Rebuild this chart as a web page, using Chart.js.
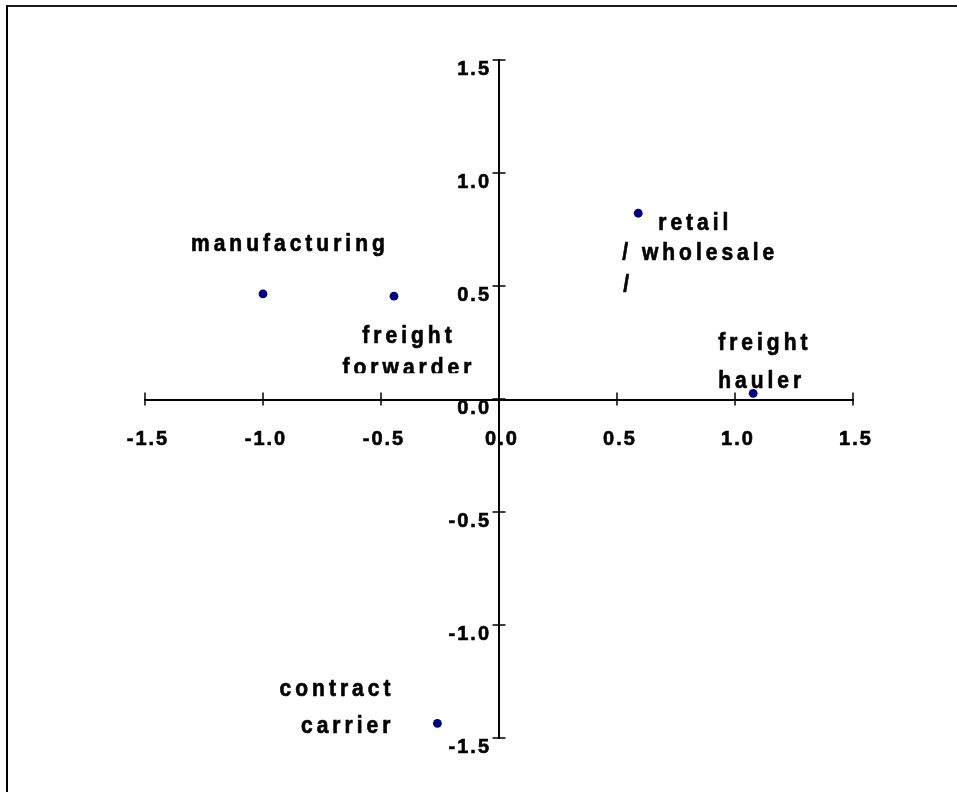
<!DOCTYPE html>
<html><head><meta charset="utf-8">
<script src="https://cdn.jsdelivr.net/npm/chart.js@4"></script>
<style>
html,body{margin:0;padding:0;background:#fff;}
#wrap{position:relative;width:957px;height:792px;overflow:hidden;background:#fff;}
#frame{position:absolute;left:6px;top:5px;right:-10px;bottom:-10px;border-top:2px solid #1a1a1a;border-left:2px solid #000;pointer-events:none;}
canvas{display:block;}
</style></head><body>
<div id="wrap"><canvas id="c" width="957" height="792"></canvas><div id="frame"></div></div>
<script>
// ---- data ----
const categories = ["manufacturing", "freight forwarder", "retail / wholesale", "freight hauler", "contract carrier"];
const labelLines = [["manufacturing"], ["freight", "forwarder"], ["retail", "/ wholesale", "/"], ["freight", "hauler"], ["contract", "carrier"]];
const xValues = [-1.00, -0.445, 0.59, 1.077, -0.261];
const yValues = [0.465, 0.455, 0.822, 0.025, -1.435];
const xTickValues = [-1.5, -1.0, -0.5, 0.0, 0.5, 1.0, 1.5];
const yTickValues = [-1.5, -1.0, -0.5, 0.0, 0.5, 1.0, 1.5];

// ---- styles for point labels (offsets from the point, in px) ----
const labelStyles = [
  {align: 'left',   dx: -72, dy: [-43]},
  {align: 'center', dx: 15,  dy: [47, 79], clipBelow: 77},
  {align: 'left',   dx: 20,  dy: [17, 47, 79], dxs: [20, -16, -15]},
  {align: 'left',   dx: -35, dy: [-43, -5]},
  {align: 'right',  dx: -43, dy: [-27, 10]}
];

const FONT = '"Liberation Sans", Arial, Helvetica, sans-serif';

const points = xValues.map((x, i) => ({x: x, y: yValues[i]}));

const spacingPlugin = {
  id: 'spacing',
  beforeLayout(chart) { chart.ctx.letterSpacing = '2px'; },
  beforeDraw(chart) { chart.ctx.letterSpacing = '2px'; }
};

const crossTicksPlugin = {
  id: 'crossTicks',
  afterDraw(chart) {
    const ctx = chart.ctx, xs = chart.scales.x, ys = chart.scales.y;
    const x0 = xs.getPixelForValue(0), y0 = ys.getPixelForValue(0);
    const half = 6.5;
    ctx.save();
    ctx.strokeStyle = '#000';
    ctx.lineWidth = 1.5;
    ctx.beginPath();
    xTickValues.forEach(v => {
      const px = Math.round(xs.getPixelForValue(v));
      ctx.moveTo(px, y0 - half); ctx.lineTo(px, y0 + half);
    });
    yTickValues.forEach(v => {
      const py = Math.round(ys.getPixelForValue(v));
      ctx.moveTo(x0 - half, py); ctx.lineTo(x0 + half, py);
    });
    ctx.stroke();
    ctx.restore();
  }
};

const pointLabelPlugin = {
  id: 'pointLabels',
  afterDatasetsDraw(chart) {
    const ctx = chart.ctx;
    const meta = chart.getDatasetMeta(0);
    ctx.save();
    ctx.font = 'bold 21px ' + FONT;
    ctx.letterSpacing = '4px';
    ctx.fillStyle = '#000';
    ctx.strokeStyle = '#000';
    ctx.lineWidth = 0.6;
    ctx.textBaseline = 'alphabetic';
    meta.data.forEach((el, i) => {
      const st = labelStyles[i];
      const lines = labelLines[i];
      ctx.save();
      if (st.clipBelow !== undefined) {
        ctx.beginPath();
        ctx.rect(0, 0, chart.width, el.y + st.clipBelow);
        ctx.clip();
      }
      ctx.textAlign = st.align;
      lines.forEach((t, j) => {
        const dx = st.dxs ? st.dxs[j] : st.dx;
        ctx.save();
        ctx.translate(el.x + dx, el.y + st.dy[j]);
        ctx.scale(1, 1.15);
        ctx.fillText(t, 0, 0);
        ctx.strokeText(t, 0, 0);
        ctx.restore();
      });
      ctx.restore();
    });
    ctx.restore();
  }
};

const tickFont = {family: FONT, size: 20, weight: 'bold'};

new Chart(document.getElementById('c'), {
  type: 'scatter',
  data: {
    datasets: [{
      label: 'groups',
      data: points,
      backgroundColor: '#000080',
      borderColor: '#000080',
      borderWidth: 0,
      pointRadius: 4.4,
      pointHoverRadius: 4.4
    }]
  },
  options: {
    responsive: false,
    animation: false,
    events: [],
    layout: {padding: {left: 145, right: 104, top: 60, bottom: 54}},
    plugins: {legend: {display: false}, tooltip: {enabled: false}},
    scales: {
      x: {
        type: 'linear',
        position: 'center',
        min: -1.5, max: 1.5,
        afterBuildTicks: s => { s.ticks = xTickValues.map(v => ({value: v})); },
        grid: {display: false, drawOnChartArea: false, drawTicks: false},
        border: {display: true, color: '#000', width: 2},
        ticks: {
          color: '#000', font: tickFont, padding: 28.5, labelOffset: 3,
          textStrokeColor: '#000', textStrokeWidth: 0.6,
          maxRotation: 0, autoSkip: false,
          callback: v => Number(v).toFixed(1)
        }
      },
      y: {
        type: 'linear',
        position: 'center',
        min: -1.5, max: 1.5,
        afterBuildTicks: s => { s.ticks = yTickValues.map(v => ({value: v})); },
        grid: {display: false, drawOnChartArea: false, drawTicks: false},
        border: {display: true, color: '#000', width: 2},
        ticks: {
          color: '#000', font: tickFont, padding: 8, labelOffset: 9,
          textStrokeColor: '#000', textStrokeWidth: 0.6,
          autoSkip: false,
          callback: v => Number(v).toFixed(1)
        }
      }
    }
  },
  plugins: [spacingPlugin, crossTicksPlugin, pointLabelPlugin]
});
</script>
</body></html>
